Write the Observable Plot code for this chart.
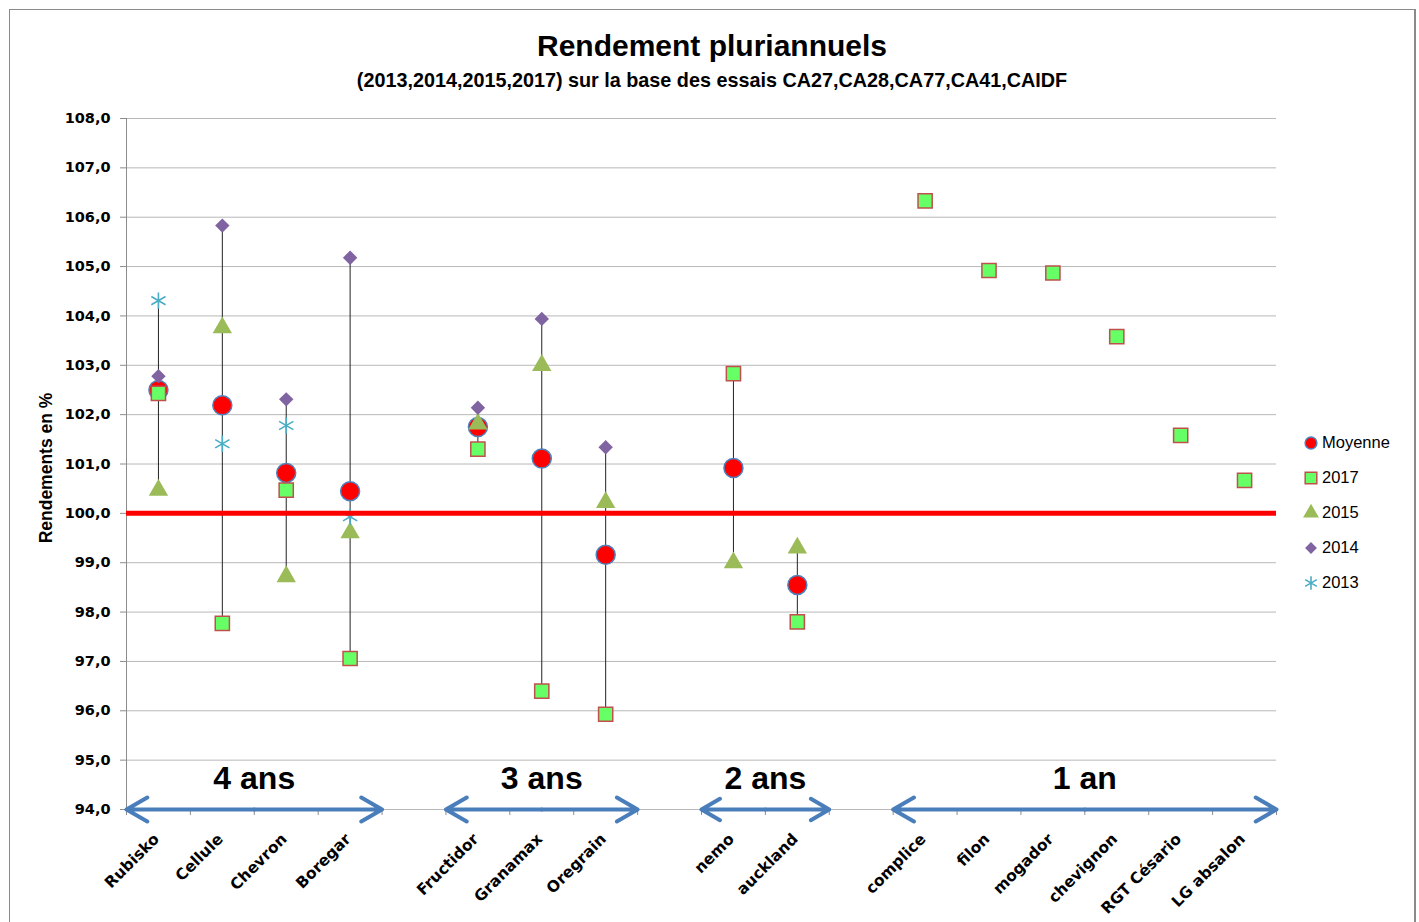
<!DOCTYPE html>
<html><head><meta charset="utf-8">
<script src="https://cdn.jsdelivr.net/npm/d3@7"></script>
<script src="https://cdn.jsdelivr.net/npm/@observablehq/plot@0.6"></script>
<style>
body{margin:0;background:#fff;font-family:"Liberation Sans",Arial,sans-serif;}
#wrap{position:relative;width:1419px;height:922px;overflow:hidden;background:#fff;}
#frame{position:absolute;left:9px;top:9px;width:1404px;height:940px;border:1px solid #8a8a8a;border-right:2px solid #8a8a8a;}
#title{position:absolute;left:0;width:1424px;top:31px;text-align:center;font-weight:bold;font-size:30px;line-height:30px;color:#000;}
#subtitle{position:absolute;left:0;width:1424px;top:71px;text-align:center;font-weight:bold;font-size:19.8px;line-height:19.8px;color:#000;}
#ylabel{position:absolute;left:46px;top:468px;transform:translate(-50%,-50%) rotate(-90deg);font-weight:bold;font-size:17.5px;white-space:nowrap;}
#chart{position:absolute;left:0;top:0;}
#legend{position:absolute;left:1303px;top:425px;font-size:16.5px;color:#000;}
#legend .it{display:flex;align-items:center;height:35px;}
#legend svg{width:16px;height:16px;margin-right:3px;overflow:visible;}
</style>
</head><body>
<div id="wrap">
  <div id="frame"></div>
  <div id="chart"></div>
  <div id="title">Rendement pluriannuels</div>
  <div id="subtitle">(2013,2014,2015,2017) sur la base des essais CA27,CA28,CA77,CA41,CAIDF</div>
  <div id="ylabel">Rendements en %</div>
  <div id="legend"></div>
</div>
<script>
// ---------- data ----------
const varieties = ["Rubisko","Cellule","Chevron","Boregar","Fructidor","Granamax","Oregrain","nemo","auckland","complice","filon","mogador","chevignon","RGT Césario","LG absalon"];
const varietyGroup = ["4 ans","4 ans","4 ans","4 ans","3 ans","3 ans","3 ans","2 ans","2 ans","1 an","1 an","1 an","1 an","1 an","1 an"];
const groups = ["4 ans","3 ans","2 ans","1 an"];
const moyenne = [102.50,102.19,100.82,100.45,101.75,101.11,99.16,100.92,98.55,null,null,null,null,null,null];
const y2017   = [102.43,97.77,100.47,97.06,101.30,96.40,95.93,102.83,97.80,106.33,104.92,104.87,103.58,101.58,100.67];
const y2015   = [100.47,103.76,98.72,99.61,101.81,103.00,100.22,99.00,99.30,null,null,null,null,null,null];
const y2014   = [102.78,105.83,102.31,105.18,102.14,103.94,101.34,null,null,null,null,null,null,null,null];
const y2013   = [104.31,101.41,101.78,99.93,null,null,null,null,null,null,null,null,null,null,null];
const yTicks  = [94,95,96,97,98,99,100,101,102,103,104,105,106,107,108];
const reference = [100];

// ---------- derived layout (slot index, one empty slot between groups) ----------
const pos = [];
{ let p = 0; varietyGroup.forEach((g, i) => { if (i > 0 && g !== varietyGroup[i - 1]) p++; pos.push(p); p++; }); }
const nSlots = pos[pos.length - 1] + 1;
const boundaries = d3.range(nSlots + 1).map(i => i - 0.5);
const nameAt = new Map(pos.map((p, i) => [p, varieties[i]]));

const series = [
  {key: "Moyenne", vals: moyenne},
  {key: "2017", vals: y2017},
  {key: "2015", vals: y2015},
  {key: "2014", vals: y2014},
  {key: "2013", vals: y2013}
];
const rows = [];
series.forEach(s => s.vals.forEach((v, i) => { if (v != null) rows.push({x: pos[i], y: v, s: s.key}); }));
const bySeries = k => rows.filter(r => r.s === k);

const ranges = varieties.map((v, i) => {
  const vals = series.slice(1).map(s => s.vals[i]).filter(d => d != null);
  return {x: pos[i], lo: d3.min(vals), hi: d3.max(vals), n: vals.length};
}).filter(d => d.n > 1);

const groupInfo = groups.map(g => {
  const ps = pos.filter((p, i) => varietyGroup[i] === g);
  const a = d3.min(ps) - 0.5, b = d3.max(ps) + 0.5;
  return {g, a, b, c: (a + b) / 2};
});
const arrowHalves = groupInfo.flatMap(d => [{x1: d.c, x2: d.a}, {x1: d.c, x2: d.b}]);

const fmt = d => d.toFixed(1).replace(".", ",");
const blue = "#4a7ebb";

const styles = {
  "Moyenne": {symbol: "circle", r: 9.5, fill: "#ff0000", stroke: "#4f81bd", strokeWidth: 1.5},
  "2017": {symbol: "square", r: 8, fill: "#66ff66", stroke: "#c0504d", strokeWidth: 1.5},
  "2015": {symbol: "triangle", r: 7.2, fill: "#9bbb59", stroke: "none"},
  "2014": {symbol: "diamond2", r: 6.5, fill: "#8064a2", stroke: "none"},
  "2013": {symbol: "asterisk", r: 7.8, fill: "none", stroke: "#4bacc6", strokeWidth: 1.6}
};

const chart = Plot.plot({
  width: 1419, height: 922,
  marginLeft: 126, marginRight: 143, marginTop: 118, marginBottom: 113,
  x: {type: "linear", domain: [-0.5, nSlots - 0.5]},
  y: {domain: [94, 108]},
  style: {fontFamily: "DejaVu Sans", overflow: "visible", background: "transparent", color: "#000"},
  marks: [
    Plot.ruleY(yTicks, {stroke: "#b8b8b8", strokeWidth: 1}),
    Plot.ruleX([-0.5], {stroke: "#8c8c8c", strokeWidth: 1}),
    Plot.axisY({ticks: yTicks, tickSize: 6, tickPadding: 10, tickFormat: fmt, fontWeight: "bold", fontSize: 14.5, stroke: "#8c8c8c", fill: "#000", label: null}),
    Plot.axisX({ticks: boundaries, tickSize: 6, tickFormat: () => "", stroke: "#8c8c8c", label: null}),
    Plot.axisX({ticks: pos, tickSize: 0, tickPadding: 27, tickRotate: -45, tickFormat: d => nameAt.get(d), fontWeight: "bold", fontSize: 15.5, fill: "#000", label: null, dx: -2}),
    Plot.ruleX(ranges, {x: "x", y1: "lo", y2: "hi", stroke: "#222", strokeWidth: 1}),
    ...series.map(s => Plot.dot(bySeries(s.key), {x: "x", y: "y", ...styles[s.key]})),
    Plot.ruleY(reference, {stroke: "#ff0000", strokeWidth: 5}),
    Plot.arrow(arrowHalves, {x1: "x1", x2: "x2", y1: () => 94, y2: () => 94, stroke: blue, strokeWidth: 4, headLength: 9, headAngle: 60, strokeLinecap: "round", strokeLinejoin: "round"}),
    Plot.text(groupInfo, {x: "c", y: () => 94, text: "g", dy: -31, fontSize: 32, fontWeight: "bold", fontFamily: "Liberation Sans", fill: "#000"})
  ]
});
document.getElementById("chart").appendChild(chart);

// ---------- legend ----------
const legend = document.getElementById("legend");
series.forEach(s => {
  const st = styles[s.key];
  const it = document.createElement("div");
  it.className = "it";
  const sym = {circle: d3.symbolCircle, square: d3.symbolSquare, triangle: d3.symbolTriangle, diamond2: d3.symbolDiamond2, asterisk: d3.symbolAsterisk}[st.symbol];
  const scale = s.key === "Moyenne" ? 0.62 : 0.82;
  const path = d3.symbol(sym, Math.PI * (st.r * scale) ** 2)();
  it.innerHTML = `<svg viewBox="-8 -8 16 16"><path d="${path}" fill="${st.fill}" stroke="${st.stroke}" stroke-width="${st.strokeWidth || 0}"/></svg><span>${s.key}</span>`;
  legend.appendChild(it);
});
</script>
</body></html>
